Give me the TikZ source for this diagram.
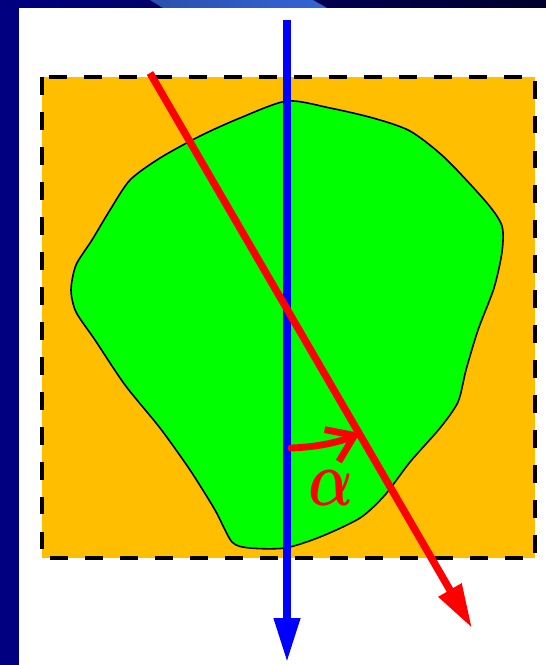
\documentclass[tikz,border=0pt]{standalone}
\usepackage{amsmath}
\usepackage{graphicx}
\usepackage{xcolor}
\usepackage{tikz}
\usetikzlibrary{arrows.meta}
\definecolor{navy}{RGB}{0,0,128}
\definecolor{amber}{RGB}{255,191,0}
\definecolor{blobgreen}{RGB}{0,255,0}
\definecolor{wedge}{RGB}{52,100,215}
\begin{document}
\begin{tikzpicture}[x=0.02cm,y=-0.02cm,ray/.style={line width=4.2pt,-{Triangle[length=0.88cm,width=0.5cm]}}]
\useasboundingbox(0,0)rectangle(546,665);
\fill[navy](0,0)rectangle(546,665);
\shade[left color=navy,right color=navy!35!black](0,0)rectangle(546,8);
\shade[left color=wedge!80!black,right color=wedge](150,0)--(313,0)--(327,8)--(163,8)--cycle;
\fill[white](19,8)rectangle(546,665);
\fill[amber](42,77)rectangle(535,558);
\filldraw[fill=blobgreen,draw=black,line width=0.9pt]plot[smooth cycle,tension=0.45]coordinates{
(287,101)(330,108)(373,118)(410,131)(445,158)(487,203)(502,226)(502,252)(494,288)
(478,330)(466,370)(458,402)(440,428)(410,462)(385,495)(360,518)(320,537)(285,548)
(250,548)(232,542)(215,510)(190,470)(160,428)(125,385)(95,340)(76,312)(71,290)
(76,265)(92,240)(110,210)(130,180)(160,158)(200,136)(240,118)};
\draw[line width=2.8pt,dash pattern=on 10.2pt off 9.7pt](42,77)rectangle(535,558);
\coordinate(in1)at(287,20);
\coordinate(out1)at(287,662);
\coordinate(in2)at(150,73);
\coordinate(out2)at(472,628);
\draw[ray,blue](in1)--(out1);
\draw[ray,red](in2)--(out2);
\coordinate(a0)at(291,448);
\coordinate(a1)at(360,433);
\draw[red,line width=3.9pt,line cap=round,-{Straight Barb[length=0.5cm,width=0.7cm]}](a0)..controls(320,447)and(342,441)..(a1);
\node[red,font=\Huge\boldmath](alpha)at(331,488){\scalebox{1.35}[1.8]{$\alpha$}};
\end{tikzpicture}
\end{document}
